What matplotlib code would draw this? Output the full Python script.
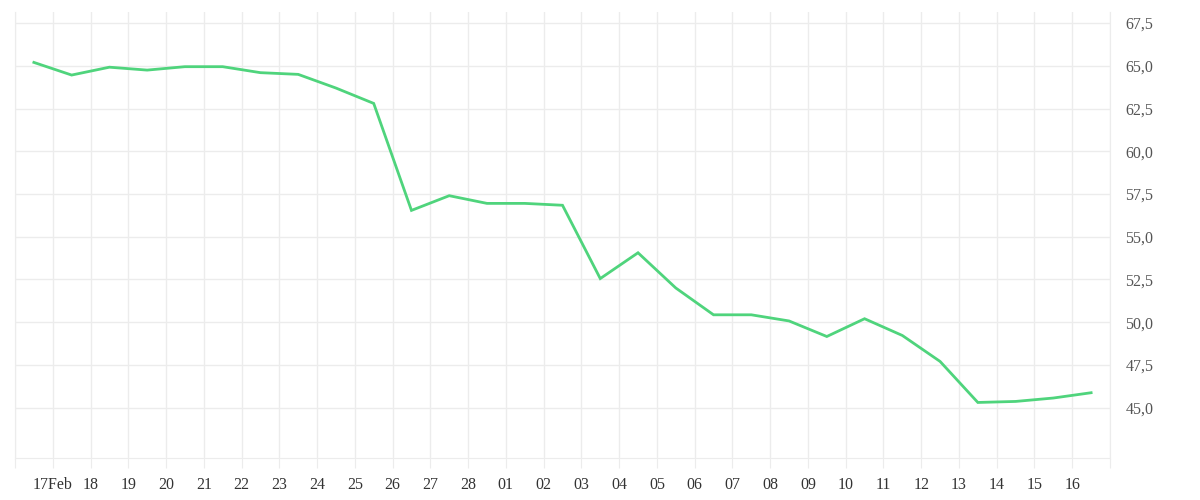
import numpy as np
import pandas as pd
import matplotlib
matplotlib.use('Agg')
import matplotlib.pyplot as plt

# daily values, plotted at noon of each day
start_day = '2021-02-16'
values = [65.2, 64.46, 64.92, 64.75, 64.95, 64.95, 64.6, 64.5, 63.7, 62.8,
          56.54, 57.4, 56.95, 56.95, 56.84, 52.55, 54.06, 52.0, 50.43, 50.43,
          50.07, 49.16, 50.2, 49.22, 47.7, 45.3, 45.36, 45.56, 45.87]
y_ticks = [45.0, 47.5, 50.0, 52.5, 55.0, 57.5, 60.0, 62.5, 65.0, 67.5]

days = pd.date_range(start_day, periods=len(values), freq='D') + pd.Timedelta(hours=12)

plt.rcParams['font.family'] = ['Liberation Serif', 'DejaVu Serif']
grid_col = '#ececec'

fig = plt.figure(figsize=(12, 5), dpi=100)
ax = fig.add_axes([0.0125, 0.084, 0.9125, 0.892])

ax.plot(days, values, color='#4fd47c', lw=2.0, solid_joinstyle='miter')

tick_days = pd.date_range(start_day, periods=len(values) + 1, freq='D')
labels = [''] + [d.strftime('%d') for d in tick_days[1:-1]] + ['']
labels[1] = tick_days[1].strftime('%d%b')
ax.set_xticks(tick_days)
ax.set_xticklabels(labels)
ax.set_xlim(tick_days[0], tick_days[-1])

ax.set_yticks(y_ticks)
ax.set_yticklabels([('%.1f' % v).replace('.', ',') for v in y_ticks])
ax.set_ylim(42.05, 68.15)
ax.yaxis.tick_right()

ax.grid(True, color=grid_col, lw=1)
ax.tick_params(axis='x', length=7, color=grid_col, labelsize=11.5, labelcolor='#333333', pad=7)
ax.tick_params(axis='y', length=0, labelsize=11.5, labelcolor='#555555', pad=11)
for s in ['left', 'right', 'bottom']:
    ax.spines[s].set_color(grid_col)
ax.spines['top'].set_visible(False)

fig.savefig('out.png', dpi=100)
